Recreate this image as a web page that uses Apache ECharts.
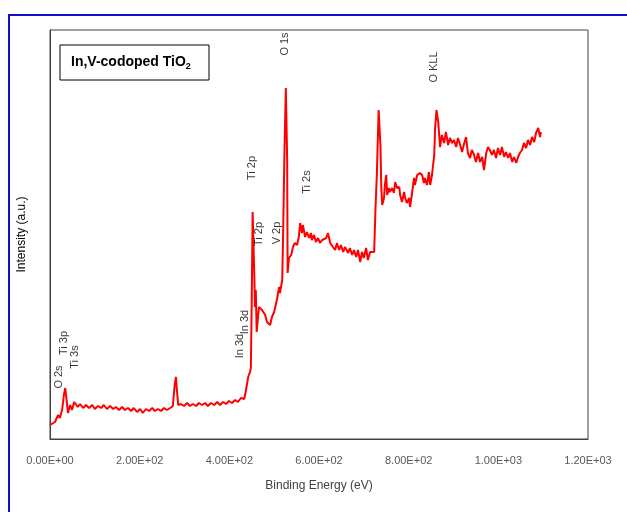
<!DOCTYPE html>
<html>
<head>
<meta charset="utf-8">
<script src="https://cdn.jsdelivr.net/npm/echarts@6/dist/echarts.min.js"></script>
<style>html,body{margin:0;padding:0;background:#fff}#c{width:627px;height:512px}</style>
</head>
<body>
<div id="c"></div>
<script>
// Binding energy (eV)
const energy = [0,4,11,18,22,27,31,34,37,40,45,49,54,58,62,67,74,80,87,94,100,107,114,120,127,134,141,147,154,161,167,174,181,187,194,201,207,214,221,228,234,241,248,254,261,268,274,278,281,283,286,292,299,306,312,319,326,332,339,346,352,359,366,373,379,386,393,399,406,413,419,426,433,436,439,442,446,448,
450,452,454,456,457,459,461,466,473,480,484,491,495,500,506,511,513,518,520,523,526,529,530,533,538,542,546,551,555,558,562,564,569,573,578,582,584,589,593,598,602,607,611,616,620,625,631,636,640,645,649,654,658,665,669,674,678,683,687,692,696,700,705,709,714,718,723,
726,729,733,737,739,741,745,747,750,752,756,758,763,767,770,774,779,781,785,790,792,796,801,803,807,812,814,819,823,825,830,834,836,841,845,848,852,857,859,862,866,868,870,874,879,883,888,892,897,901,906,910,915,919,924,928,932,937,941,946,950,955,959,964,968,973,977,981,986,990,995,999,1004,1008,1013,1017,1022,1026,1031,1035,1040,1044,1048,1053,1057,1062,1066,1071,1075,1080,1084,1089,1093,1095];
// Intensity (a.u.)
const intensity = [14,13,17,24,21,29,44,51,39,26,34,29,37,39,32,35,31,34,31,34,30,33,31,34,30,33,30,32,29,32,29,31,28,31,27,30,26,30,28,31,28,30,28,31,29,31,33,54,62,49,34,35,33,36,33,35,33,36,34,36,33,36,34,37,34,37,35,38,36,39,37,41,40,46,54,62,67,71,
139,227,227,159,132,149,107,132,129,124,117,114,122,127,139,152,146,159,206,289,351,279,166,181,184,192,196,194,202,216,206,214,202,207,201,206,199,204,197,201,196,199,197,201,206,196,192,189,196,189,194,187,192,186,191,184,189,182,189,177,187,181,191,179,187,186,187,
231,264,329,294,251,234,241,254,264,244,251,247,251,246,257,251,252,244,237,247,241,236,241,232,244,261,254,264,266,266,264,256,261,254,267,254,264,284,311,329,317,304,292,304,296,307,294,301,296,299,292,301,294,287,296,302,286,281,289,284,277,286,277,282,269,286,292,289,284,289,281,291,284,292,282,287,281,286,277,282,276,282,286,289,296,291,299,294,302,297,306,311,302,307];
// Peak annotations
const peakNames = ["O 2s","Ti 3p","Ti 3s","In 3d","In 3d","Ti 2p","Ti 2p","V 2p","Ti 2s","O 1s","O KLL"];
const peakE = [20,31,56,424,435,451,466,506,573,524,857];
const peakI = [62,96,82,93,117,271,205,206,257,395,372];
// X axis ticks
const xMin = 0, xMax = 1200, xStep = 200;

const lineData = energy.map((e,i)=>[e,intensity[i]]);
const labelData = peakNames.map((n,i)=>[peakE[i],peakI[i],n]);

function sci(v){
  if (v === 0) return "0.00E+00";
  const exp = Math.floor(Math.log10(Math.abs(v)));
  const m = v/Math.pow(10,exp);
  return m.toFixed(2) + "E+" + String(exp).padStart(2,"0");
}

const chart = echarts.init(document.getElementById('c'), null, {renderer:'canvas'});
const FF = "Liberation Sans";
chart.setOption({
  animation:false,
  backgroundColor:'#fff',
  textStyle:{fontFamily:FF},
  grid:{left:50,right:39,top:30,bottom:73,show:true,borderColor:'#404040',borderWidth:1,backgroundColor:'transparent'},
  xAxis:{
    type:'value',min:xMin,max:xMax,interval:xStep,
    name:'Binding Energy (eV)',nameLocation:'middle',nameGap:41,
    nameTextStyle:{color:'#404040',fontSize:12,fontFamily:FF},
    axisLine:{show:true,lineStyle:{color:'#404040',width:1}},
    axisTick:{show:false},splitLine:{show:false},
    axisLabel:{color:'#595959',fontSize:11,margin:16,fontFamily:FF,formatter:sci}
  },
  yAxis:{
    type:'value',min:0,max:409,
    name:'Intensity (a.u.)',nameLocation:'middle',nameGap:22,
    nameTextStyle:{color:'#000',fontSize:12,fontFamily:FF},
    axisLine:{show:true,lineStyle:{color:'#404040',width:1}},
    axisTick:{show:false},splitLine:{show:false},axisLabel:{show:false}
  },
  series:[
    {type:'line',data:lineData,showSymbol:false,symbol:'none',
     lineStyle:{color:'#ff0000',width:2},z:3},
    {type:'scatter',data:labelData,symbolSize:0,silent:true,z:4,
     label:{show:true,position:'inside',rotate:90,color:'#000',fontSize:11,fontFamily:FF,
       formatter:p=>p.data[2]}}
  ],
  graphic:[
    {type:'rect',shape:{x:9,y:15,width:700,height:600},style:{fill:'none',stroke:'#1010c8',lineWidth:2},silent:true},
    {type:'rect',shape:{x:60,y:45,width:149,height:35},style:{fill:'#fff',stroke:'#000',lineWidth:1},z:10},
    {type:'text',x:71,y:62,z:11,style:{
      text:'{b|In,V-codoped TiO}{s|2}',
      verticalAlign:'middle',
      rich:{
        b:{fontSize:14,fontWeight:'bold',fontFamily:FF,fill:'#000'},
        s:{fontSize:9,fontWeight:'bold',fontFamily:FF,fill:'#000',padding:[9,0,0,0]}
      }}}
  ]
});
</script>
</body>
</html>
